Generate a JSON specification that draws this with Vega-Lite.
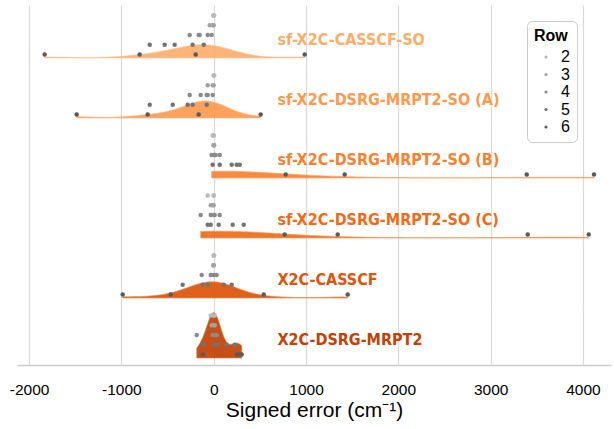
{
  "$schema": "https://vega.github.io/schema/vega-lite/v6.json",
  "padding": {"left": 9, "top": 5, "right": 2, "bottom": 0},
  "background": "white",
  "data": {"values": [
    {"method": "sf-X2C-CASSCF-SO", "Row": 2, "err": 0},
    {"method": "sf-X2C-CASSCF-SO", "Row": 2, "err": -5},
    {"method": "sf-X2C-CASSCF-SO", "Row": 2, "err": 5},
    {"method": "sf-X2C-CASSCF-SO", "Row": 3, "err": -43},
    {"method": "sf-X2C-CASSCF-SO", "Row": 3, "err": -11},
    {"method": "sf-X2C-CASSCF-SO", "Row": 3, "err": 0},
    {"method": "sf-X2C-CASSCF-SO", "Row": 4, "err": -260},
    {"method": "sf-X2C-CASSCF-SO", "Row": 4, "err": -163},
    {"method": "sf-X2C-CASSCF-SO", "Row": 4, "err": -152},
    {"method": "sf-X2C-CASSCF-SO", "Row": 4, "err": -65},
    {"method": "sf-X2C-CASSCF-SO", "Row": 4, "err": -22},
    {"method": "sf-X2C-CASSCF-SO", "Row": 5, "err": -693},
    {"method": "sf-X2C-CASSCF-SO", "Row": 5, "err": -531},
    {"method": "sf-X2C-CASSCF-SO", "Row": 5, "err": -423},
    {"method": "sf-X2C-CASSCF-SO", "Row": 5, "err": -228},
    {"method": "sf-X2C-CASSCF-SO", "Row": 5, "err": -108},
    {"method": "sf-X2C-CASSCF-SO", "Row": 6, "err": -1831},
    {"method": "sf-X2C-CASSCF-SO", "Row": 6, "err": -802},
    {"method": "sf-X2C-CASSCF-SO", "Row": 6, "err": -195},
    {"method": "sf-X2C-CASSCF-SO", "Row": 6, "err": 986},

    {"method": "sf-X2C-DSRG-MRPT2-SO (A)", "Row": 2, "err": 0},
    {"method": "sf-X2C-DSRG-MRPT2-SO (A)", "Row": 2, "err": 0},
    {"method": "sf-X2C-DSRG-MRPT2-SO (A)", "Row": 2, "err": 5},
    {"method": "sf-X2C-DSRG-MRPT2-SO (A)", "Row": 3, "err": -65},
    {"method": "sf-X2C-DSRG-MRPT2-SO (A)", "Row": 3, "err": -11},
    {"method": "sf-X2C-DSRG-MRPT2-SO (A)", "Row": 3, "err": 0},
    {"method": "sf-X2C-DSRG-MRPT2-SO (A)", "Row": 4, "err": -260},
    {"method": "sf-X2C-DSRG-MRPT2-SO (A)", "Row": 4, "err": -141},
    {"method": "sf-X2C-DSRG-MRPT2-SO (A)", "Row": 4, "err": -76},
    {"method": "sf-X2C-DSRG-MRPT2-SO (A)", "Row": 4, "err": -65},
    {"method": "sf-X2C-DSRG-MRPT2-SO (A)", "Row": 4, "err": -11},
    {"method": "sf-X2C-DSRG-MRPT2-SO (A)", "Row": 5, "err": -693},
    {"method": "sf-X2C-DSRG-MRPT2-SO (A)", "Row": 5, "err": -444},
    {"method": "sf-X2C-DSRG-MRPT2-SO (A)", "Row": 5, "err": -282},
    {"method": "sf-X2C-DSRG-MRPT2-SO (A)", "Row": 5, "err": -228},
    {"method": "sf-X2C-DSRG-MRPT2-SO (A)", "Row": 5, "err": -76},
    {"method": "sf-X2C-DSRG-MRPT2-SO (A)", "Row": 6, "err": -1484},
    {"method": "sf-X2C-DSRG-MRPT2-SO (A)", "Row": 6, "err": -715},
    {"method": "sf-X2C-DSRG-MRPT2-SO (A)", "Row": 6, "err": -163},
    {"method": "sf-X2C-DSRG-MRPT2-SO (A)", "Row": 6, "err": 509},

    {"method": "sf-X2C-DSRG-MRPT2-SO (B)", "Row": 2, "err": -11},
    {"method": "sf-X2C-DSRG-MRPT2-SO (B)", "Row": 2, "err": 0},
    {"method": "sf-X2C-DSRG-MRPT2-SO (B)", "Row": 2, "err": 0},
    {"method": "sf-X2C-DSRG-MRPT2-SO (B)", "Row": 3, "err": 0},
    {"method": "sf-X2C-DSRG-MRPT2-SO (B)", "Row": 3, "err": 0},
    {"method": "sf-X2C-DSRG-MRPT2-SO (B)", "Row": 3, "err": 5},
    {"method": "sf-X2C-DSRG-MRPT2-SO (B)", "Row": 4, "err": -22},
    {"method": "sf-X2C-DSRG-MRPT2-SO (B)", "Row": 4, "err": 0},
    {"method": "sf-X2C-DSRG-MRPT2-SO (B)", "Row": 4, "err": 11},
    {"method": "sf-X2C-DSRG-MRPT2-SO (B)", "Row": 4, "err": 22},
    {"method": "sf-X2C-DSRG-MRPT2-SO (B)", "Row": 4, "err": 65},
    {"method": "sf-X2C-DSRG-MRPT2-SO (B)", "Row": 5, "err": -11},
    {"method": "sf-X2C-DSRG-MRPT2-SO (B)", "Row": 5, "err": 65},
    {"method": "sf-X2C-DSRG-MRPT2-SO (B)", "Row": 5, "err": 195},
    {"method": "sf-X2C-DSRG-MRPT2-SO (B)", "Row": 5, "err": 249},
    {"method": "sf-X2C-DSRG-MRPT2-SO (B)", "Row": 5, "err": 282},
    {"method": "sf-X2C-DSRG-MRPT2-SO (B)", "Row": 6, "err": 780},
    {"method": "sf-X2C-DSRG-MRPT2-SO (B)", "Row": 6, "err": 1419},
    {"method": "sf-X2C-DSRG-MRPT2-SO (B)", "Row": 6, "err": 3391},
    {"method": "sf-X2C-DSRG-MRPT2-SO (B)", "Row": 6, "err": 4120},

    {"method": "sf-X2C-DSRG-MRPT2-SO (C)", "Row": 2, "err": -65},
    {"method": "sf-X2C-DSRG-MRPT2-SO (C)", "Row": 2, "err": 0},
    {"method": "sf-X2C-DSRG-MRPT2-SO (C)", "Row": 2, "err": 0},
    {"method": "sf-X2C-DSRG-MRPT2-SO (C)", "Row": 3, "err": -32},
    {"method": "sf-X2C-DSRG-MRPT2-SO (C)", "Row": 3, "err": -11},
    {"method": "sf-X2C-DSRG-MRPT2-SO (C)", "Row": 3, "err": 0},
    {"method": "sf-X2C-DSRG-MRPT2-SO (C)", "Row": 4, "err": -141},
    {"method": "sf-X2C-DSRG-MRPT2-SO (C)", "Row": 4, "err": -32},
    {"method": "sf-X2C-DSRG-MRPT2-SO (C)", "Row": 4, "err": 0},
    {"method": "sf-X2C-DSRG-MRPT2-SO (C)", "Row": 4, "err": 11},
    {"method": "sf-X2C-DSRG-MRPT2-SO (C)", "Row": 4, "err": 65},
    {"method": "sf-X2C-DSRG-MRPT2-SO (C)", "Row": 5, "err": -65},
    {"method": "sf-X2C-DSRG-MRPT2-SO (C)", "Row": 5, "err": -32},
    {"method": "sf-X2C-DSRG-MRPT2-SO (C)", "Row": 5, "err": 54},
    {"method": "sf-X2C-DSRG-MRPT2-SO (C)", "Row": 5, "err": 206},
    {"method": "sf-X2C-DSRG-MRPT2-SO (C)", "Row": 5, "err": 325},
    {"method": "sf-X2C-DSRG-MRPT2-SO (C)", "Row": 6, "err": 769},
    {"method": "sf-X2C-DSRG-MRPT2-SO (C)", "Row": 6, "err": 1343},
    {"method": "sf-X2C-DSRG-MRPT2-SO (C)", "Row": 6, "err": 3402},
    {"method": "sf-X2C-DSRG-MRPT2-SO (C)", "Row": 6, "err": 4063},

    {"method": "X2C-CASSCF", "Row": 2, "err": 0},
    {"method": "X2C-CASSCF", "Row": 2, "err": 0},
    {"method": "X2C-CASSCF", "Row": 2, "err": 5},
    {"method": "X2C-CASSCF", "Row": 3, "err": -5},
    {"method": "X2C-CASSCF", "Row": 3, "err": 0},
    {"method": "X2C-CASSCF", "Row": 3, "err": 0},
    {"method": "X2C-CASSCF", "Row": 4, "err": -130},
    {"method": "X2C-CASSCF", "Row": 4, "err": -32},
    {"method": "X2C-CASSCF", "Row": 4, "err": -22},
    {"method": "X2C-CASSCF", "Row": 4, "err": 0},
    {"method": "X2C-CASSCF", "Row": 4, "err": 32},
    {"method": "X2C-CASSCF", "Row": 5, "err": -336},
    {"method": "X2C-CASSCF", "Row": 5, "err": -119},
    {"method": "X2C-CASSCF", "Row": 5, "err": -65},
    {"method": "X2C-CASSCF", "Row": 5, "err": 108},
    {"method": "X2C-CASSCF", "Row": 5, "err": 195},
    {"method": "X2C-CASSCF", "Row": 6, "err": -986},
    {"method": "X2C-CASSCF", "Row": 6, "err": -466},
    {"method": "X2C-CASSCF", "Row": 6, "err": 542},
    {"method": "X2C-CASSCF", "Row": 6, "err": 1452},

    {"method": "X2C-DSRG-MRPT2", "Row": 2, "err": -32},
    {"method": "X2C-DSRG-MRPT2", "Row": 2, "err": 0},
    {"method": "X2C-DSRG-MRPT2", "Row": 2, "err": 11},
    {"method": "X2C-DSRG-MRPT2", "Row": 3, "err": -22},
    {"method": "X2C-DSRG-MRPT2", "Row": 3, "err": 0},
    {"method": "X2C-DSRG-MRPT2", "Row": 3, "err": 11},
    {"method": "X2C-DSRG-MRPT2", "Row": 4, "err": -184},
    {"method": "X2C-DSRG-MRPT2", "Row": 4, "err": -11},
    {"method": "X2C-DSRG-MRPT2", "Row": 4, "err": 0},
    {"method": "X2C-DSRG-MRPT2", "Row": 4, "err": 11},
    {"method": "X2C-DSRG-MRPT2", "Row": 4, "err": 32},
    {"method": "X2C-DSRG-MRPT2", "Row": 5, "err": -108},
    {"method": "X2C-DSRG-MRPT2", "Row": 5, "err": 11},
    {"method": "X2C-DSRG-MRPT2", "Row": 5, "err": 43},
    {"method": "X2C-DSRG-MRPT2", "Row": 5, "err": 141},
    {"method": "X2C-DSRG-MRPT2", "Row": 5, "err": 228},
    {"method": "X2C-DSRG-MRPT2", "Row": 6, "err": -119},
    {"method": "X2C-DSRG-MRPT2", "Row": 6, "err": 249},
    {"method": "X2C-DSRG-MRPT2", "Row": 6, "err": 271},
    {"method": "X2C-DSRG-MRPT2", "Row": 6, "err": 303}
  ]},
  "facet": {
    "row": {
      "field": "method", "type": "nominal",
      "sort": ["sf-X2C-CASSCF-SO", "sf-X2C-DSRG-MRPT2-SO (A)", "sf-X2C-DSRG-MRPT2-SO (B)", "sf-X2C-DSRG-MRPT2-SO (C)", "X2C-CASSCF", "X2C-DSRG-MRPT2"],
      "header": {"labels": false, "title": null, "labelPadding": 0, "titlePadding": 0},
      "title": null
    }
  },
  "spacing": 0,
  "spec": {
    "width": 594,
    "height": 60,
    "layer": [
      {
        "transform": [
          {"filter": {"field": "method", "equal": "sf-X2C-CASSCF-SO"}},
          {"density": "err", "groupby": ["method"], "bandwidth": 284, "steps": 200, "as": ["err", "dens"]}
        ],
        "mark": {"type": "area", "opacity": 0.92, "strokeWidth": 0.7},
        "encoding": {
          "x": {"field": "err", "type": "quantitative", "title": "Signed error (cm⁻¹)", "axis": {"values": [-2000, -1000, 0, 1000, 2000, 3000, 4000]}, "scale": {"domain": [-2131, 4304], "nice": false, "zero": false}},
          "y": {"field": "dens", "type": "quantitative", "axis": null, "scale": {"domain": [-0.000526, 0.003985], "nice": false, "zero": false}},
          "y2": {"datum": 0},
          "fill": {"field": "method", "type": "nominal", "legend": null, "scale": {"domain": ["sf-X2C-CASSCF-SO", "sf-X2C-DSRG-MRPT2-SO (A)", "sf-X2C-DSRG-MRPT2-SO (B)", "sf-X2C-DSRG-MRPT2-SO (C)", "X2C-CASSCF", "X2C-DSRG-MRPT2"], "range": ["#fdae6b", "#fd9a4f", "#f8822f", "#f06b18", "#de5409", "#c24205"]}},
          "stroke": {"field": "method", "type": "nominal", "legend": null, "scale": {"domain": ["sf-X2C-CASSCF-SO", "sf-X2C-DSRG-MRPT2-SO (A)", "sf-X2C-DSRG-MRPT2-SO (B)", "sf-X2C-DSRG-MRPT2-SO (C)", "X2C-CASSCF", "X2C-DSRG-MRPT2"], "range": ["#fdc596", "#fdb47e", "#faa465", "#f6964f", "#ec8a4c", "#d9794a"]}}
        }
      },
      {
        "transform": [
          {"filter": {"field": "method", "equal": "sf-X2C-DSRG-MRPT2-SO (A)"}},
          {"density": "err", "groupby": ["method"], "bandwidth": 219, "steps": 200, "as": ["err", "dens"]}
        ],
        "mark": {"type": "area", "opacity": 0.92, "strokeWidth": 0.7},
        "encoding": {
          "x": {"field": "err", "type": "quantitative", "title": "Signed error (cm⁻¹)", "axis": {"values": [-2000, -1000, 0, 1000, 2000, 3000, 4000]}, "scale": {"domain": [-2131, 4304], "nice": false, "zero": false}},
          "y": {"field": "dens", "type": "quantitative", "axis": null, "scale": {"domain": [-0.000526, 0.003985], "nice": false, "zero": false}},
          "y2": {"datum": 0},
          "fill": {"field": "method", "type": "nominal", "legend": null},
          "stroke": {"field": "method", "type": "nominal", "legend": null}
        }
      },
      {
        "transform": [
          {"filter": {"field": "method", "equal": "sf-X2C-DSRG-MRPT2-SO (B)"}},
          {"density": "err", "groupby": ["method"], "bandwidth": 639, "steps": 200, "as": ["err", "dens"]}
        ],
        "mark": {"type": "area", "opacity": 0.92, "strokeWidth": 0.7},
        "encoding": {
          "x": {"field": "err", "type": "quantitative", "title": "Signed error (cm⁻¹)", "axis": {"values": [-2000, -1000, 0, 1000, 2000, 3000, 4000]}, "scale": {"domain": [-2131, 4304], "nice": false, "zero": false}},
          "y": {"field": "dens", "type": "quantitative", "axis": null, "scale": {"domain": [-0.000526, 0.003985], "nice": false, "zero": false}},
          "y2": {"datum": 0},
          "fill": {"field": "method", "type": "nominal", "legend": null},
          "stroke": {"field": "method", "type": "nominal", "legend": null}
        }
      },
      {
        "transform": [
          {"filter": {"field": "method", "equal": "sf-X2C-DSRG-MRPT2-SO (C)"}},
          {"density": "err", "groupby": ["method"], "bandwidth": 640, "steps": 200, "as": ["err", "dens"]}
        ],
        "mark": {"type": "area", "opacity": 0.92, "strokeWidth": 0.7},
        "encoding": {
          "x": {"field": "err", "type": "quantitative", "title": "Signed error (cm⁻¹)", "axis": {"values": [-2000, -1000, 0, 1000, 2000, 3000, 4000]}, "scale": {"domain": [-2131, 4304], "nice": false, "zero": false}},
          "y": {"field": "dens", "type": "quantitative", "axis": null, "scale": {"domain": [-0.000526, 0.003985], "nice": false, "zero": false}},
          "y2": {"datum": 0},
          "fill": {"field": "method", "type": "nominal", "legend": null},
          "stroke": {"field": "method", "type": "nominal", "legend": null}
        }
      },
      {
        "transform": [
          {"filter": {"field": "method", "equal": "X2C-CASSCF"}},
          {"density": "err", "groupby": ["method"], "bandwidth": 245, "steps": 200, "as": ["err", "dens"]}
        ],
        "mark": {"type": "area", "opacity": 0.92, "strokeWidth": 0.7},
        "encoding": {
          "x": {"field": "err", "type": "quantitative", "title": "Signed error (cm⁻¹)", "axis": {"values": [-2000, -1000, 0, 1000, 2000, 3000, 4000]}, "scale": {"domain": [-2131, 4304], "nice": false, "zero": false}},
          "y": {"field": "dens", "type": "quantitative", "axis": null, "scale": {"domain": [-0.000526, 0.003985], "nice": false, "zero": false}},
          "y2": {"datum": 0},
          "fill": {"field": "method", "type": "nominal", "legend": null},
          "stroke": {"field": "method", "type": "nominal", "legend": null}
        }
      },
      {
        "transform": [
          {"filter": {"field": "method", "equal": "X2C-DSRG-MRPT2"}},
          {"density": "err", "groupby": ["method"], "bandwidth": 72, "steps": 200, "as": ["err", "dens"]}
        ],
        "mark": {"type": "area", "opacity": 0.92, "strokeWidth": 0.7},
        "encoding": {
          "x": {"field": "err", "type": "quantitative", "title": "Signed error (cm⁻¹)", "axis": {"values": [-2000, -1000, 0, 1000, 2000, 3000, 4000]}, "scale": {"domain": [-2131, 4304], "nice": false, "zero": false}},
          "y": {"field": "dens", "type": "quantitative", "axis": null, "scale": {"domain": [-0.000526, 0.003985], "nice": false, "zero": false}},
          "y2": {"datum": 0},
          "fill": {"field": "method", "type": "nominal", "legend": null},
          "stroke": {"field": "method", "type": "nominal", "legend": null}
        }
      },
      {
        "mark": {"type": "circle", "size": 20, "opacity": 1},
        "encoding": {
          "x": {"field": "err", "type": "quantitative", "title": "Signed error (cm⁻¹)", "axis": {"values": [-2000, -1000, 0, 1000, 2000, 3000, 4000]}, "scale": {"domain": [-2131, 4304], "nice": false, "zero": false}},
          "y": {"field": "Row", "type": "quantitative", "axis": null, "scale": {"domain": [0.923, 7.077], "range": [0, 60], "nice": false, "zero": false}},
          "color": {
            "field": "Row", "type": "ordinal",
            "scale": {"domain": [2, 3, 4, 5, 6], "range": ["#b9b9b9", "#a2a2a2", "#8a8a8a", "#737373", "#5a5a5a"]},
            "legend": {
              "title": "Row", "orient": "none", "legendX": 510, "legendY": 16,
              "strokeColor": "#cccccc", "cornerRadius": 5, "fillColor": "white", "padding": 7,
              "titleFontSize": 16, "titleFontWeight": "bold", "titleColor": "black", "titleFont": "Liberation Sans",
              "labelFontSize": 16, "labelColor": "black", "labelFont": "Liberation Sans",
              "symbolType": "circle", "symbolSize": 10, "symbolStrokeWidth": 0, "rowPadding": 1.5, "labelOffset": 7, "symbolOffset": 4
            }
          }
        }
      },
      {
        "transform": [{"aggregate": [{"op": "count", "as": "n"}], "groupby": ["method"]}],
        "mark": {"type": "text", "align": "left", "baseline": "middle", "font": "DejaVu Sans Condensed", "fontWeight": "bold", "fontSize": 16},
        "encoding": {
          "x": {"datum": 690, "type": "quantitative"},
          "y": {"datum": 0.00139, "type": "quantitative", "axis": null, "scale": {"domain": [-0.000526, 0.003985], "nice": false, "zero": false}},
          "text": {"field": "method", "type": "nominal"},
          "fill": {"field": "method", "type": "nominal", "legend": null}
        }
      }
    ],
    "resolve": {"scale": {"y": "independent"}}
  },
  "config": {
    "view": {"stroke": null},
    "font": "Liberation Sans",
    "header": {"labels": false, "labelPadding": 0, "titlePadding": 0},
    "axisX": {
      "labelExpr": "'' + datum.value",
      "grid": true, "gridColor": "#d9d9d9", "gridWidth": 1.2,
      "domainColor": "#cccccc", "domainWidth": 1.5,
      "ticks": false,
      "labelFontSize": 15.5, "labelColor": "black", "labelPadding": 17, "labelFont": "Liberation Sans",
      "titleFontSize": 21, "titleFontWeight": "normal", "titleColor": "black", "titlePadding": 2, "titleFont": "Liberation Sans"
    }
  }
}
